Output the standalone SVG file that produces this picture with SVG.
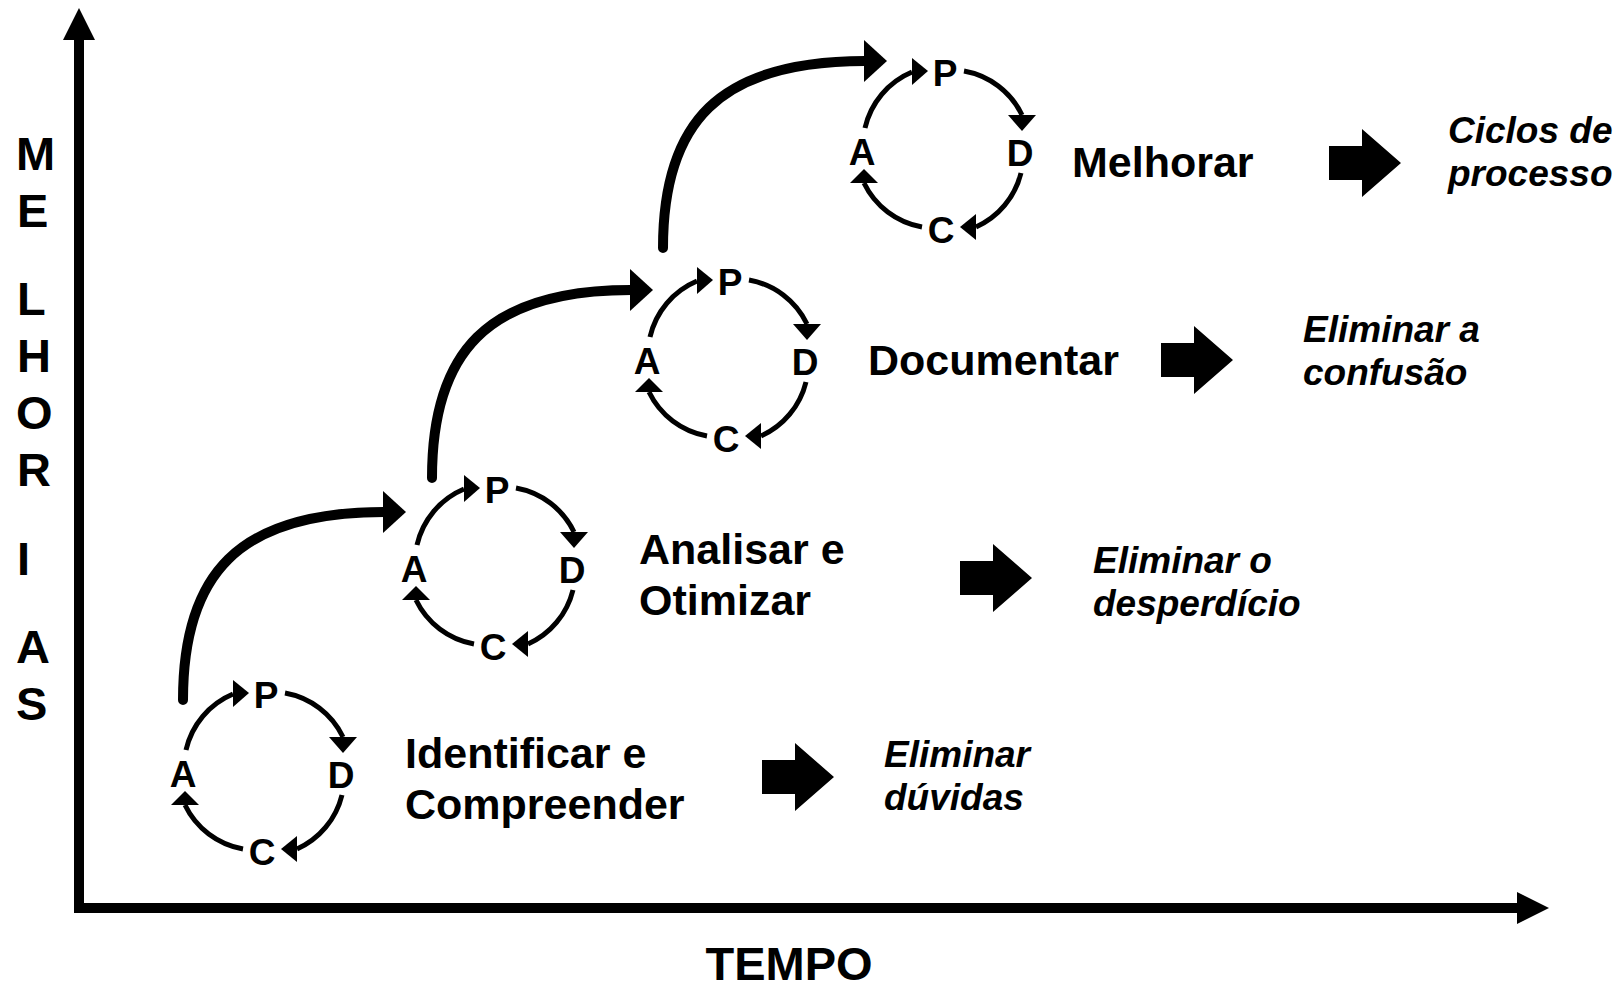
<svg xmlns="http://www.w3.org/2000/svg" xmlns:xlink="http://www.w3.org/1999/xlink" width="1623" height="988" viewBox="0 0 1623 988">
<style>
  text { font-family: "Liberation Sans", Arial, Helvetica, sans-serif; font-weight: bold; fill: #000; }
  .axis-label { font-size: 47px; }
  .tempo { font-size: 47px; }
  .stage { font-size: 43px; }
  .result { font-size: 37px; font-style: italic; }
  .letter { font-size: 37px; text-anchor: middle; }
  .cyc { fill: none; stroke: #000; stroke-width: 5; stroke-linecap: butt; }
  .head { fill: #000; }
  .big { fill: none; stroke: #000; stroke-width: 10; stroke-linecap: round; }
  .axis { fill: none; stroke: #000; stroke-width: 10; stroke-linejoin: miter; }
</style>
<defs>
  <path id="block" d="M0,-17 H33 V-34 L72,0 L33,34 V17 H0 Z" fill="#000"/>
</defs>
<rect width="1623" height="988" fill="#fff"/>

<g id="axes">
  <path class="axis" d="M79,38 V908 H1519"/>
  <polygon class="head" points="79,8 63,40 95,40"/>
  <polygon class="head" points="1549,908 1517,892 1517,924"/>
  <text class="axis-label" x="16" y="170">M</text>
  <text class="axis-label" x="17" y="227">E</text>
  <text class="axis-label" x="17" y="315">L</text>
  <text class="axis-label" x="17" y="372">H</text>
  <text class="axis-label" x="16" y="429">O</text>
  <text class="axis-label" x="17" y="486">R</text>
  <text class="axis-label" x="17" y="575">I</text>
  <text class="axis-label" x="16" y="663">A</text>
  <text class="axis-label" x="16" y="720">S</text>
  <text class="tempo" x="789" y="980" text-anchor="middle">TEMPO</text>
</g>

<g id="connectors">
  <path class="big" d="M183,700 C183,575 237,512 384,512"/>
  <polygon class="head" points="406,512 383,491 383,533"/>
  <path class="big" d="M432,478 C432,353 486,290 631,290"/>
  <polygon class="head" points="653,290 630,269 630,311"/>
  <path class="big" d="M663,248 C663,123 718,61 865,61"/>
  <polygon class="head" points="887,61 864,40 864,82"/>
</g>

<g id="cycle1" transform="translate(263,772)">
  <path class="cyc" d="M-77,-22 A80,80 0 0 1 -30,-78"/>
  <polygon class="head" points="-14,-79 -30,-92 -30,-65"/>
  <path class="cyc" d="M22,-79 A80,80 0 0 1 80,-35"/>
  <polygon class="head" points="80,-19 94,-35 66,-35"/>
  <path class="cyc" d="M79,23 A80,80 0 0 1 34,77"/>
  <polygon class="head" points="18,77 34,64 34,90"/>
  <path class="cyc" d="M-20,77 A80,80 0 0 1 -78,33"/>
  <polygon class="head" points="-78,19 -92,33 -64,33"/>
  <text class="letter" x="3" y="-64">P</text>
  <text class="letter" x="-80" y="15">A</text>
  <text class="letter" x="78" y="16">D</text>
  <text class="letter" x="-1" y="93">C</text>
</g>

<g id="cycle2" transform="translate(494,567)">
  <path class="cyc" d="M-77,-22 A80,80 0 0 1 -30,-78"/>
  <polygon class="head" points="-14,-79 -30,-92 -30,-65"/>
  <path class="cyc" d="M22,-79 A80,80 0 0 1 80,-35"/>
  <polygon class="head" points="80,-19 94,-35 66,-35"/>
  <path class="cyc" d="M79,23 A80,80 0 0 1 34,77"/>
  <polygon class="head" points="18,77 34,64 34,90"/>
  <path class="cyc" d="M-20,77 A80,80 0 0 1 -78,33"/>
  <polygon class="head" points="-78,19 -92,33 -64,33"/>
  <text class="letter" x="3" y="-64">P</text>
  <text class="letter" x="-80" y="15">A</text>
  <text class="letter" x="78" y="16">D</text>
  <text class="letter" x="-1" y="93">C</text>
</g>

<g id="cycle3" transform="translate(727,359)">
  <path class="cyc" d="M-77,-22 A80,80 0 0 1 -30,-78"/>
  <polygon class="head" points="-14,-79 -30,-92 -30,-65"/>
  <path class="cyc" d="M22,-79 A80,80 0 0 1 80,-35"/>
  <polygon class="head" points="80,-19 94,-35 66,-35"/>
  <path class="cyc" d="M79,23 A80,80 0 0 1 34,77"/>
  <polygon class="head" points="18,77 34,64 34,90"/>
  <path class="cyc" d="M-20,77 A80,80 0 0 1 -78,33"/>
  <polygon class="head" points="-78,19 -92,33 -64,33"/>
  <text class="letter" x="3" y="-64">P</text>
  <text class="letter" x="-80" y="15">A</text>
  <text class="letter" x="78" y="16">D</text>
  <text class="letter" x="-1" y="93">C</text>
</g>

<g id="cycle4" transform="translate(942,150)">
  <path class="cyc" d="M-77,-22 A80,80 0 0 1 -30,-78"/>
  <polygon class="head" points="-14,-79 -30,-92 -30,-65"/>
  <path class="cyc" d="M22,-79 A80,80 0 0 1 80,-35"/>
  <polygon class="head" points="80,-19 94,-35 66,-35"/>
  <path class="cyc" d="M79,23 A80,80 0 0 1 34,77"/>
  <polygon class="head" points="18,77 34,64 34,90"/>
  <path class="cyc" d="M-20,77 A80,80 0 0 1 -78,33"/>
  <polygon class="head" points="-78,19 -92,33 -64,33"/>
  <text class="letter" x="3" y="-64">P</text>
  <text class="letter" x="-80" y="15">A</text>
  <text class="letter" x="78" y="16">D</text>
  <text class="letter" x="-1" y="93">C</text>
</g>

<g id="stage1">
  <text class="stage" x="405" y="768">Identificar e</text>
  <text class="stage" x="405" y="819">Compreender</text>
  <use xlink:href="#block" href="#block" transform="translate(762,777)"/>
  <text class="result" x="884" y="767">Eliminar</text>
  <text class="result" x="884" y="810">dúvidas</text>
</g>

<g id="stage2">
  <text class="stage" x="639" y="564">Analisar e</text>
  <text class="stage" x="639" y="615">Otimizar</text>
  <use xlink:href="#block" href="#block" transform="translate(960,578)"/>
  <text class="result" x="1093" y="573">Eliminar o</text>
  <text class="result" x="1093" y="616">desperdício</text>
</g>

<g id="stage3">
  <text class="stage" x="868" y="375">Documentar</text>
  <use xlink:href="#block" href="#block" transform="translate(1161,360)"/>
  <text class="result" x="1303" y="342">Eliminar a</text>
  <text class="result" x="1303" y="385">confusão</text>
</g>

<g id="stage4">
  <text class="stage" x="1072" y="177">Melhorar</text>
  <use xlink:href="#block" href="#block" transform="translate(1329,163)"/>
  <text class="result" x="1448" y="143">Ciclos de</text>
  <text class="result" x="1448" y="186">processo</text>
</g>
</svg>
